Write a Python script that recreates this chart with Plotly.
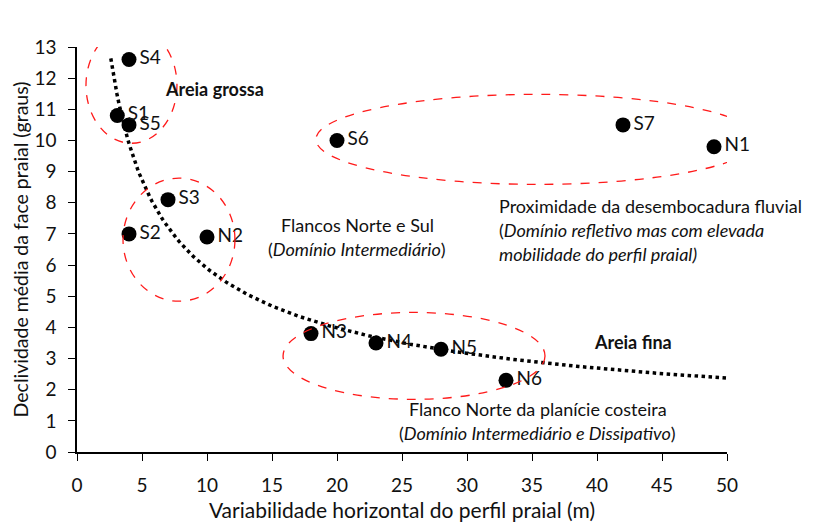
import numpy as np
import plotly.graph_objects as go

# Beach stations: horizontal profile variability (m) vs mean beach-face slope (degrees)
stations = ["S4", "S1", "S5", "S6", "S7", "N1", "S3", "S2", "N2", "N3", "N4", "N5", "N6"]
variability_m = [4.0, 3.1, 4.0, 20.0, 42.0, 49.0, 7.0, 4.0, 10.0, 18.0, 23.0, 28.0, 33.0]
slope_deg = [12.6, 10.8, 10.5, 10.0, 10.5, 9.8, 8.1, 7.0, 6.9, 3.8, 3.5, 3.3, 2.3]

# Power trend line y = a * x^b
trend_a = 21.7
trend_b = -0.566
trend_x_start = 2.6
trend_x_end = 50.0

x_ticks = list(range(0, 51, 5))
y_ticks = list(range(0, 14))

FONT = "Lato, Carlito, 'Open Sans', sans-serif"
TXT = "#111111"

fig = go.Figure()

tx = np.linspace(trend_x_start, trend_x_end, 300)
fig.add_trace(go.Scatter(
    x=tx, y=trend_a * tx ** trend_b, mode="lines",
    line=dict(color="black", width=3.5, dash="dot"),
    hoverinfo="skip", showlegend=False,
))

fig.add_trace(go.Scatter(
    x=variability_m, y=slope_deg, mode="markers+text",
    text=stations, textposition="middle right",
    textfont=dict(family=FONT, size=19, color=TXT),
    marker=dict(color="black", size=15),
    showlegend=False, cliponaxis=False,
))

# Group outlines (red dashed ellipses)
groups = [
    (0.69, 9.91, 7.69, 13.63),
    (3.54, 4.84, 12.15, 8.79),
    (15.85, 1.69, 36.0, 4.48),
    (18.38, 8.59, 52.4, 11.48),
]
for x0, y0, x1, y1 in groups:
    fig.add_shape(type="circle", xref="x", yref="y", x0=x0, y0=y0, x1=x1, y1=y1,
                  line=dict(color="#ff1a1a", width=1.3, dash="dash"), layer="above")

def note(x, y, text, xanchor="center"):
    fig.add_annotation(x=x, y=y, xref="x", yref="y", text=text, showarrow=False,
                       xanchor=xanchor, yanchor="middle",
                       font=dict(family=FONT, size=18, color=TXT))

note(14.23, 13.92, "Flanco sul da planície costeira")
note(14.23, 13.12, "(<i>domínio refletivo</i>)")
note(10.6, 11.65, "<b>Areia grossa</b>")
note(21.54, 7.28, "Flancos Norte e Sul")
note(21.54, 6.51, "(<i>Domínio Intermediário</i>)")
note(32.3, 7.9, "Proximidade da desembocadura fluvial", xanchor="left")
note(32.3, 7.12, "(<i>Domínio refletivo mas com elevada</i>", xanchor="left")
note(32.3, 6.34, "<i>mobilidade do perfil praial)</i>", xanchor="left")
note(42.77, 3.52, "<b>Areia fina</b>")
note(35.46, 1.37, "Flanco Norte da planície costeira")
note(35.46, 0.60, "(<i>Domínio Intermediário e Dissipativo</i>)")

fig.update_layout(
    width=817, height=524,
    margin=dict(l=77, r=90, t=47, b=72),
    paper_bgcolor="white", plot_bgcolor="white",
    font=dict(family=FONT, size=18, color=TXT),
    xaxis=dict(
        range=[0, 50], tickvals=x_ticks, ticks="outside", ticklen=7, tickwidth=1.3,
        tickcolor="black", showline=True, linecolor="black", linewidth=1.5,
        showgrid=False, zeroline=False, tickfont=dict(size=19), ticklabelstandoff=8,
        automargin=False,
        title=dict(text="Variabilidade horizontal do perfil praial (m)", font=dict(size=21), standoff=9),
    ),
    yaxis=dict(
        range=[0, 13], tickvals=y_ticks, ticks="outside", ticklen=7, tickwidth=1.3,
        tickcolor="black", showline=True, linecolor="black", linewidth=1.5,
        showgrid=False, zeroline=False, tickfont=dict(size=19), ticklabelstandoff=8,
        automargin=False,
        title=dict(text="Declividade média da face praial (graus)", font=dict(size=19.5), standoff=1),
    ),
)

fig.write_html("out.html")
